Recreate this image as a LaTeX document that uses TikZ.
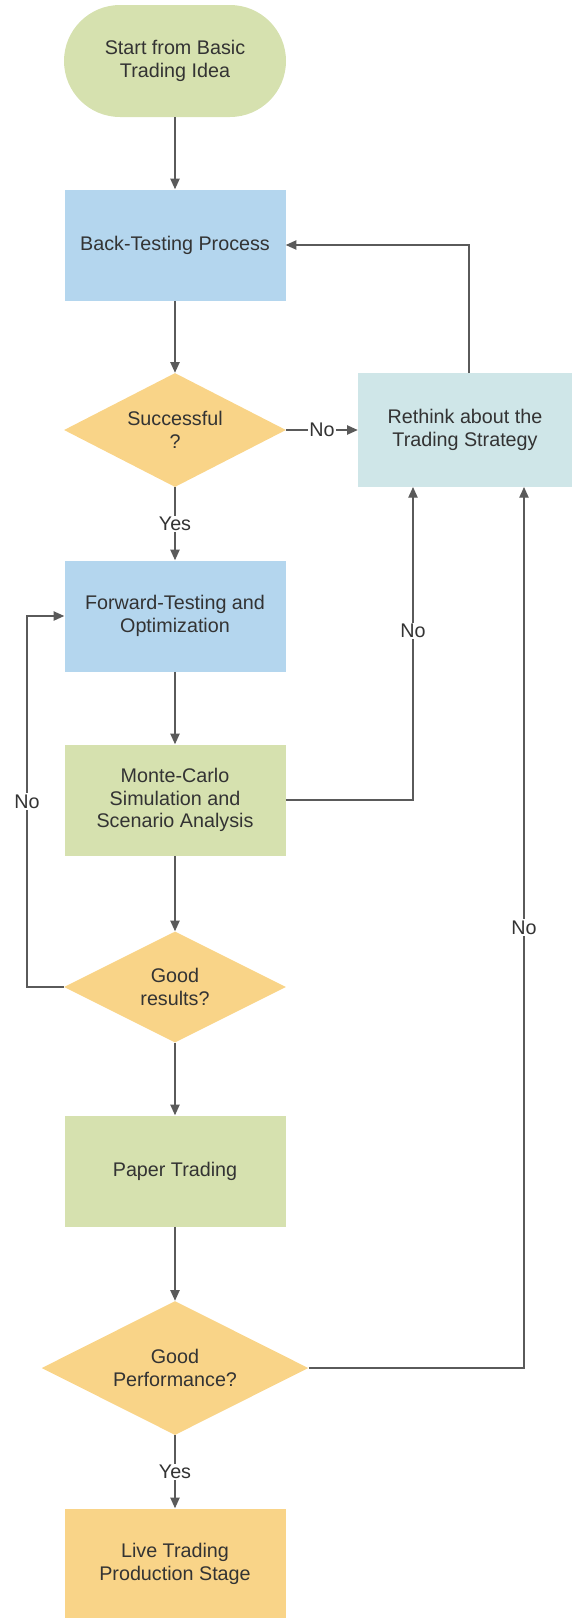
\documentclass[tikz,border=0pt]{standalone}
\usepackage{fontspec}
\setmainfont{Liberation Sans}
\usetikzlibrary{shapes.geometric,arrows.meta}
\definecolor{ideagreen}{RGB}{214,225,175}
\definecolor{testblue}{RGB}{180,214,238}
\definecolor{checkorange}{RGB}{249,212,136}
\definecolor{rethinkcyan}{RGB}{207,230,232}
\definecolor{linegray}{RGB}{90,90,90}
\definecolor{txtgray}{RGB}{51,51,51}

\begin{document}
\begin{tikzpicture}[x=0.75pt,y=0.75pt,yscale=-1,xscale=1,
  every node/.style={font=\fontsize{14.8}{17}\selectfont, text=txtgray},
  procbox/.style={rectangle, minimum width=165.75pt, minimum height=83.25pt, inner sep=0pt, align=center},
  termbox/.style={rectangle, rounded corners=42pt, minimum width=166.5pt, minimum height=84pt, inner sep=0pt, align=center, fill=ideagreen},
  decision/.style={diamond, aspect=1.95, inner sep=0pt, align=center, fill=checkorange},
  arr/.style={draw=linegray, line width=1pt, -{Triangle[length=8pt,width=7pt]}},
  lbl/.style={fill=white, inner sep=1pt}]
\useasboundingbox (0,0) rectangle (572,1618);

%Shape: Terminal
\node[termbox] (start) at (175,61) {Start from Basic\\Trading Idea};
%Shape: Rectangle
\node[procbox, fill=testblue] (back) at (175,245) {Back-Testing Process};
%Shape: Diamond
\node[decision, minimum width=166.5pt, minimum height=85.5pt] (succ) at (175,430) {Successful\\?};
%Shape: Rectangle
\node[rectangle, minimum width=160.5pt, minimum height=85.5pt, inner sep=0pt, align=center, fill=rethinkcyan] (rethink) at (465,430) {Rethink about the\\Trading Strategy};
%Shape: Rectangle
\node[procbox, fill=testblue] (fwd) at (175,616) {Forward-Testing and\\Optimization};
%Shape: Rectangle
\node[procbox, fill=ideagreen] (monte) at (175,800) {Monte-Carlo\\Simulation and\\Scenario Analysis};
%Shape: Diamond
\node[decision, minimum width=166.5pt, minimum height=83.25pt] (goodres) at (175,987) {Good\\results?};
%Shape: Rectangle
\node[procbox, fill=ideagreen] (paper) at (175,1171) {Paper Trading};
%Shape: Diamond
\node[decision, aspect=2, minimum width=200pt, minimum height=100.5pt] (goodperf) at (175,1368) {Good\\Performance?};
%Shape: Rectangle
\node[procbox, fill=checkorange] (live) at (175,1564) {Live Trading\\Production Stage};

%Turning points
\coordinate (rethinkout) at (469,373);
\coordinate (fwdin) at (27,987);
\coordinate (montein) at (413,487);
\coordinate (perfin) at (524,487);

%Straight Lines
\draw[arr] (start) -- (back);
\draw[arr] (back) -- (succ);
\draw[arr] (succ) -- node[lbl] {Yes} (fwd);
\draw[arr] (succ) -- node[lbl] {No} (rethink);
\draw[arr] (rethinkout) |- (back.east);
\draw[arr] (fwd) -- (monte);
\draw[arr] (monte.east) -| node[lbl, pos=0.77] {No} (montein);
\draw[arr] (monte) -- (goodres);
\draw[arr] (goodres.west) -- (fwdin) |- node[lbl, pos=0.25] {No} (fwd.west);
\draw[arr] (goodres) -- (paper);
\draw[arr] (paper) -- (goodperf);
\draw[arr] (goodperf.east) -| node[lbl, pos=0.75] {No} (perfin);
\draw[arr] (goodperf) -- node[lbl] {Yes} (live);
\end{tikzpicture}
\end{document}
